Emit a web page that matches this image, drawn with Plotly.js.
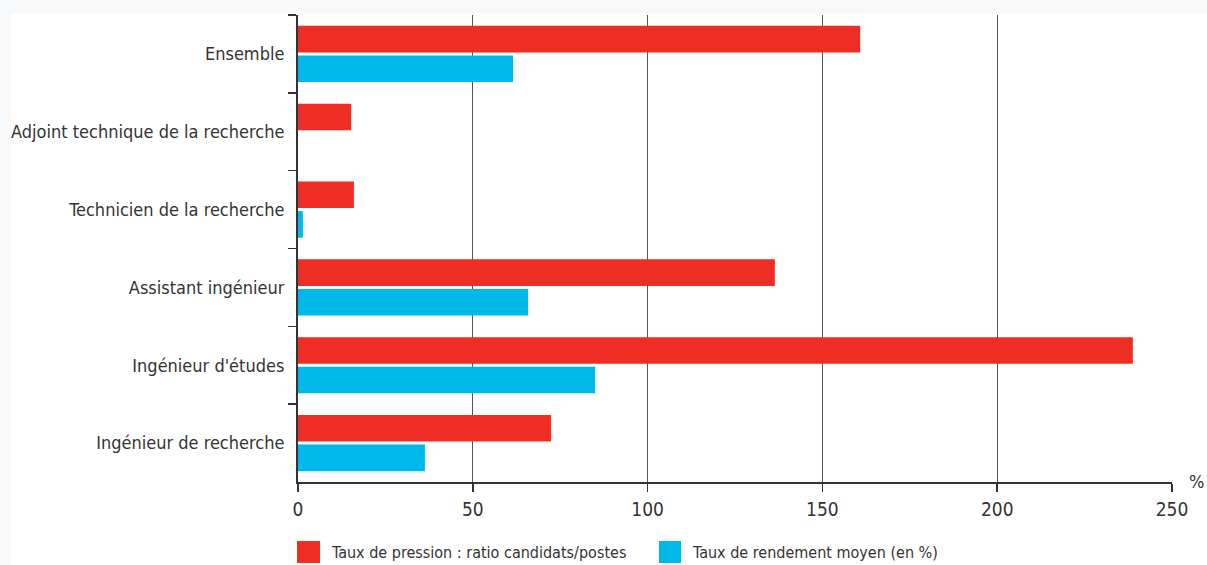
<!DOCTYPE html>
<html>
<head>
<meta charset="utf-8">
<script src="https://cdn.plot.ly/plotly-3.0.1.min.js"></script>
<style>
  html, body { margin: 0; padding: 0; background: #f8f9fb; width: 1207px; height: 565px; overflow: hidden; }
  #chart { position: absolute; left: 11px; top: 14px; width: 1196px; height: 551px; background: #ffffff; }
</style>
</head>
<body>
<div id="chart"></div>
<script>
const categories = [
  "Ensemble",
  "Adjoint technique de la recherche",
  "Technicien de la recherche",
  "Assistant ingénieur",
  "Ingénieur d'études",
  "Ingénieur de recherche"
];
const tauxPression = [160.8, 15.2, 16.0, 136.4, 238.8, 72.4];
const tauxRendement = [61.5, null, 1.4, 65.8, 85.0, 36.3];
const seriesNames = ["Taux de pression : ratio candidats/postes", "Taux de rendement moyen (en %)"];
const xTicks = [0, 50, 100, 150, 200, 250];
const unitLabel = "%";

const RED = "#ee2e24";
const BLUE = "#00b9eb";
const FONT = "'Liberation Sans Narrow', 'DejaVu Sans Condensed', 'Roboto', sans-serif";
const TEXT = "#333333";

const traces = [
  { type: "bar", orientation: "h", name: seriesNames[0], y: categories, x: tauxPression,
    marker: { color: RED }, hoverinfo: "x+y", showlegend: false },
  { type: "bar", orientation: "h", name: seriesNames[1], y: categories, x: tauxRendement,
    marker: { color: BLUE }, hoverinfo: "x+y", showlegend: false }
];

const layout = {
  width: 1196, height: 551,
  margin: { l: 287, r: 35, t: 1, b: 83, pad: 0 },
  paper_bgcolor: "#ffffff",
  plot_bgcolor: "#ffffff",
  barmode: "group",
  bargap: 0.24,
  bargroupgap: 0.1,
  font: { family: FONT, size: 18, color: TEXT },
  xaxis: {
    range: [0, 250],
    tickvals: xTicks,
    ticktext: xTicks.map(String),
    showgrid: true, gridcolor: "#555555", gridwidth: 1.3,
    zeroline: false,
    showline: true, linecolor: "#333333", linewidth: 1.5,
    ticks: "outside", ticklen: 8, tickcolor: "#333333", tickwidth: 1.5,
    ticklabelstandoff: 2,
    tickfont: { family: FONT, size: 19, color: TEXT },
    fixedrange: true
  },
  yaxis: {
    type: "category",
    categoryorder: "array", categoryarray: categories,
    autorange: "reversed",
    showgrid: false, zeroline: false,
    showline: true, linecolor: "#333333", linewidth: 2,
    ticks: "outside", tickson: "boundaries", ticklen: 8, tickcolor: "#333333", tickwidth: 1.5,
    ticklabelstandoff: 8,
    tickfont: { family: FONT, size: 18, color: TEXT },
    fixedrange: true
  },
  shapes: [
    { type: "rect", xref: "paper", yref: "paper", x0: -0.0011, x1: 0.0252, y0: -0.1734, y1: -0.1263,
      fillcolor: RED, line: { width: 0 } },
    { type: "rect", xref: "paper", yref: "paper", x0: 0.413, x1: 0.4382, y0: -0.1734, y1: -0.1263,
      fillcolor: BLUE, line: { width: 0 } }
  ],
  annotations: [
    { xref: "paper", yref: "paper", x: 0.0355, y: -0.1499, xanchor: "left", yanchor: "middle",
      text: seriesNames[0], showarrow: false, font: { family: FONT, size: 16, color: TEXT } },
    { xref: "paper", yref: "paper", x: 0.4485, y: -0.1499, xanchor: "left", yanchor: "middle",
      text: seriesNames[1], showarrow: false, font: { family: FONT, size: 16, color: TEXT } },
    { xref: "paper", yref: "paper", x: 1.0275, y: 0.002, xanchor: "center", yanchor: "middle",
      text: unitLabel, showarrow: false, font: { family: FONT, size: 18, color: TEXT } }
  ]
};

Plotly.newPlot("chart", traces, layout, { displayModeBar: false, staticPlot: true });
</script>
</body>
</html>
